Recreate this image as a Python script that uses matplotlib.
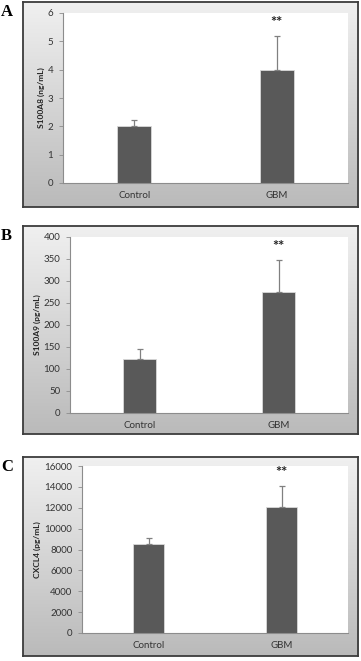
import numpy as np
import matplotlib
matplotlib.use("Agg")
import matplotlib.pyplot as plt
from matplotlib.colors import LinearSegmentedColormap

# data
groups = ["Control", "GBM"]

s100a8_mean = [2.02, 4.0]
s100a8_err = [0.21, 1.18]

s100a9_mean = [122, 276]
s100a9_err = [23, 72]

cxcl4_mean = [8550, 12100]
cxcl4_err = [550, 2000]

panels = [
    ("A", "S100A8 (ng/mL)", s100a8_mean, s100a8_err, 6, 1),
    ("B", "S100A9 (pg/mL)", s100a9_mean, s100a9_err, 400, 50),
    ("C", "CXCL4 (pg/mL)", cxcl4_mean, cxcl4_err, 16000, 2000),
]

# layout in pixels: frame box, plot box (x0, y0, x1, y1)
W, H = 361, 661
frames = [(23, 2, 358, 207), (23, 226, 358, 434), (23, 457, 358, 656)]
plots = [(63, 13, 348, 183), (70, 237, 348, 413), (82, 466, 348, 633)]


def rect(box):
    x0, y0, x1, y1 = box
    return [x0 / W, 1 - y1 / H, (x1 - x0) / W, (y1 - y0) / H]


plt.rcParams['font.family'] = ['Lato', 'DejaVu Sans']
fig = plt.figure(figsize=(W / 100, H / 100), dpi=100)

grad_cmap = LinearSegmentedColormap.from_list("frame", ["#f0f0f0", "#bababa"])

for (letter, ylabel, means, errs, ymax, step), fbox, pbox in zip(panels, frames, plots):
    # grey gradient frame behind the chart
    bg = fig.add_axes(rect(fbox))
    grad = np.linspace(0, 1, 200).reshape(-1, 1)
    bg.imshow(grad, aspect="auto", cmap=grad_cmap, extent=[0, 1, 0, 1], origin="upper")
    bg.set_xticks([])
    bg.set_yticks([])
    for sp in bg.spines.values():
        sp.set_color("#3c3c3c")
        sp.set_linewidth(1.3)

    ax = fig.add_axes(rect(pbox))
    ax.set_facecolor("white")
    x = np.arange(len(groups))
    ax.bar(x, means, width=0.24, color="#595959", edgecolor="#d9d9d9", linewidth=0.6, zorder=2)
    ax.errorbar(x, means, yerr=[[0] * len(errs), errs], fmt="none", ecolor="#808080",
                elinewidth=0.9, capsize=2.5, capthick=0.9, zorder=3)
    # significance marker over GBM
    ax.text(x[1], means[1] + errs[1] + ymax * 0.035, "**", ha="center", va="bottom",
            fontsize=10.5, fontweight="bold", color="#222222")

    ax.set_xlim(-0.5, 1.5)
    ax.set_ylim(0, ymax)
    ax.set_yticks(np.arange(0, ymax + step / 2, step))
    ax.set_xticks(x)
    ax.set_xticklabels(groups)
    ax.tick_params(axis="x", length=0, labelsize=7, colors="#333333", pad=5.5)
    ax.tick_params(axis="y", length=3, width=0.6, color="#8c8c8c", labelsize=7,
                   labelcolor="#333333", pad=4)
    ax.set_ylabel(ylabel, fontsize=6, fontweight="bold", color="#222222", labelpad=2)
    for side in ["top", "right"]:
        ax.spines[side].set_visible(False)
    for side in ["left", "bottom"]:
        ax.spines[side].set_color("#8c8c8c")
        ax.spines[side].set_linewidth(0.8)

    fig.text(1 / W, 1 - (fbox[1] + 2) / H, letter, ha="left", va="top", fontsize=12,
             fontweight="bold", family="Liberation Serif")

fig.savefig("out.png", dpi=100)
